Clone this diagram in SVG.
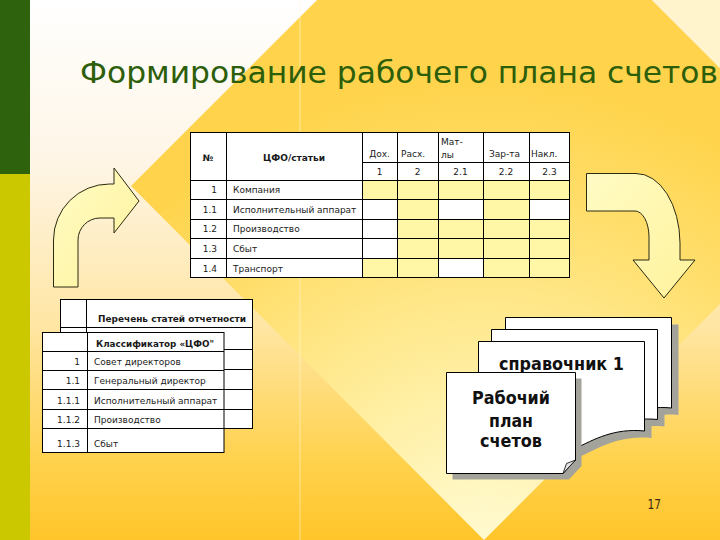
<svg xmlns="http://www.w3.org/2000/svg" width="720" height="540" viewBox="0 0 720 540">
<defs>
<linearGradient id="gBase" gradientUnits="userSpaceOnUse" x1="0" y1="0" x2="0" y2="540">
<stop offset="0" stop-color="#FFFFFF"/>
<stop offset="0.3" stop-color="#FEF5E6"/>
<stop offset="0.6" stop-color="#FFE6A4"/>
<stop offset="0.85" stop-color="#FFD24E"/>
<stop offset="1" stop-color="#FFC52A"/>
</linearGradient>
<radialGradient id="gDia" gradientUnits="userSpaceOnUse" cx="484" cy="560" r="480">
<stop offset="0" stop-color="#FFFBD6"/>
<stop offset="0.35" stop-color="#FFF0A6"/>
<stop offset="0.7" stop-color="#FFE072"/>
<stop offset="1" stop-color="#FFD44C"/>
</radialGradient>
<linearGradient id="gArrow" x1="0" y1="0" x2="1" y2="1">
<stop offset="0" stop-color="#FFFBC4"/>
<stop offset="1" stop-color="#FFF39C"/>
</linearGradient>
<style>
.t{font-family:"DejaVu Sans","Liberation Sans",sans-serif;font-size:9px;fill:#1a1a1a}
.b{font-weight:bold}
.grid{fill:none;stroke:#000;stroke-width:1}
.cell{fill:#FFF6A6}
.paper{fill:#FFFFFF;stroke:#000;stroke-width:1}
.shadow{fill:#A3A39C}
.arrow{fill:url(#gArrow);stroke:#2a2a10;stroke-width:1}
.big{font-family:"DejaVu Sans","Liberation Sans",sans-serif;font-size:17px;font-weight:bold;fill:#111}
</style>
</defs>

<g id="background">
<rect x="0" y="0" width="720" height="540" fill="url(#gBase)"/>
<polygon points="317,0 652,0 720,68 720,304 484,540 131,186" fill="url(#gDia)"/>
<polygon points="652,0 720,0 720,68" fill="#FFF4CC"/>
<line x1="300" y1="0" x2="300" y2="540" stroke="#FFF8DA" stroke-opacity="0.55" stroke-width="1"/>
<rect x="0" y="0" width="30" height="174" fill="#2F620C"/>
<rect x="0" y="174" width="30" height="366" fill="#CCC800"/>
</g>

<g id="title">
<text x="80" y="83" font-family="'DejaVu Sans','Liberation Sans',sans-serif" font-size="31" fill="#2D5E0A" textLength="638" lengthAdjust="spacingAndGlyphs">Формирование рабочего плана счетов</text>
</g>

<g id="table-main">
<rect x="190" y="132" width="380" height="146" fill="#FFFFFF"/>
<rect class="cell" x="362" y="180" width="208" height="19"/>
<rect class="cell" x="397" y="199" width="41" height="20"/>
<rect class="cell" x="483" y="199" width="46" height="20"/>
<rect class="cell" x="397" y="219" width="173" height="20"/>
<rect class="cell" x="397" y="238" width="173" height="21"/>
<rect class="cell" x="362" y="258" width="76" height="20"/>
<rect class="cell" x="483" y="258" width="87" height="20"/>
<path class="grid" d="M190,132.5H570M190,180.5H570M190,199.5H570M190,219.5H570M190,238.5H570M190,258.5H570M190,277.5H570M362,162.5H570M190.5,132V278M226.5,132V278M362.5,132V278M397.5,132V278M438.5,132V278M483.5,132V278M529.5,132V278M569.5,132V278"/>
<text class="t b" x="208" y="161" text-anchor="middle">№</text>
<text class="t b" x="294" y="161" text-anchor="middle">ЦФО/статьи</text>
<text class="t" x="379.5" y="157" text-anchor="middle">Дох.</text>
<text class="t" x="401" y="157">Расх.</text>
<text class="t" x="441" y="145">Мат-</text>
<text class="t" x="441" y="158">лы</text>
<text class="t" x="489" y="157">Зар-та</text>
<text class="t" x="531" y="157">Накл.</text>
<text class="t" x="379.5" y="175" text-anchor="middle">1</text>
<text class="t" x="417.5" y="175" text-anchor="middle">2</text>
<text class="t" x="460.5" y="175" text-anchor="middle">2.1</text>
<text class="t" x="506" y="175" text-anchor="middle">2.2</text>
<text class="t" x="549.5" y="175" text-anchor="middle">2.3</text>
<text class="t" x="217" y="193" text-anchor="end">1</text>
<text class="t" x="233" y="193">Компания</text>
<text class="t" x="217" y="212.5" text-anchor="end">1.1</text>
<text class="t" x="233" y="212.5">Исполнительный аппарат</text>
<text class="t" x="217" y="232" text-anchor="end">1.2</text>
<text class="t" x="233" y="232">Производство</text>
<text class="t" x="217" y="252" text-anchor="end">1.3</text>
<text class="t" x="233" y="252">Сбыт</text>
<text class="t" x="217" y="271.5" text-anchor="end">1.4</text>
<text class="t" x="233" y="271.5">Транспорт</text>
</g>

<g id="list-back">
<rect class="paper" x="60.5" y="299.5" width="192" height="129"/>
<path class="grid" d="M86.5,299V428M60,327.5H252.5M60,349.5H252.5M60,369.5H252.5M60,389.5H252.5M60,409.5H252.5"/>
<text class="t b" x="98" y="321.5" textLength="148" lengthAdjust="spacingAndGlyphs">Перечень статей отчетности</text>
</g>

<g id="list-front">
<rect class="paper" x="42.5" y="332.5" width="181.5" height="120"/>
<path class="grid" d="M87.5,332.5V452.5M42.5,351.5H224M42.5,370.5H224M42.5,389.5H224M42.5,409.5H224M42.5,428.5H224"/>
<text class="t b" x="96" y="346.5" textLength="118" lengthAdjust="spacingAndGlyphs">Классификатор «ЦФО"</text>
<text class="t" x="80" y="365" text-anchor="end">1</text>
<text class="t" x="94" y="365">Совет директоров</text>
<text class="t" x="80" y="384.3" text-anchor="end">1.1</text>
<text class="t" x="94" y="384.3">Генеральный директор</text>
<text class="t" x="80" y="404" text-anchor="end">1.1.1</text>
<text class="t" x="94" y="404">Исполнительный аппарат</text>
<text class="t" x="80" y="423.3" text-anchor="end">1.1.2</text>
<text class="t" x="94" y="423.3">Производство</text>
<text class="t" x="80" y="446.5" text-anchor="end">1.1.3</text>
<text class="t" x="94" y="446.5">Сбыт</text>
</g>

<g id="connectors">
<path id="arrow-left" class="arrow" d="M53.5,287 L53.5,240 A56,56 0 0 1 109.5,184 L114,184 L114,168 L139,201 L114,233 L114,218 L100,218 A22,22 0 0 0 78,240 L78,287 Z"/>
<path id="arrow-right" class="arrow" d="M586.5,173.5 L636,173.5 A44,70 0 0 1 680,243 L680,260 L695,260 L664,298 L633,260 L649,260 L649,237 A14,26 0 0 0 635,211 L586.5,211 Z"/>
</g>

<g id="documents">
<g class="shadow" transform="translate(7,7)">
<path d="M505.5,317.5H671.5V408C641.5,405 621.5,416 601.5,426C571.5,440 545.5,438 505.5,428Z"/>
<path d="M491.5,329.5H657.5V419.5C627.5,416.5 607.5,427.5 587.5,437.5C557.5,451.5 531.5,449.5 491.5,439.5Z"/>
<path d="M478.5,341.5H644.5V431C614.5,428 594.5,439 574.5,449C544.5,463 518.5,461 478.5,451Z"/>
</g>
<path class="paper" d="M505.5,317.5H671.5V408C641.5,405 621.5,416 601.5,426C571.5,440 545.5,438 505.5,428Z"/>
<path class="paper" d="M491.5,329.5H657.5V419.5C627.5,416.5 607.5,427.5 587.5,437.5C557.5,451.5 531.5,449.5 491.5,439.5Z"/>
<path class="paper" d="M478.5,341.5H644.5V431C614.5,428 594.5,439 574.5,449C544.5,463 518.5,461 478.5,451Z"/>
<text class="big" x="561.5" y="370" text-anchor="middle" textLength="125" lengthAdjust="spacingAndGlyphs">справочник 1</text>
</g>

<g id="working-plan">
<path class="shadow" d="M452.5,378.5H581.5V466L569,479.5H452.5Z"/>
<path class="paper" d="M446.5,372.5H575.5V460L563,473.5H446.5Z"/>
<path d="M575.5,460L563,473.5L566.5,463.5Z" fill="#E4E4E4" stroke="#000" stroke-width="0.8"/>
<text class="big" x="511" y="404" text-anchor="middle" textLength="78" lengthAdjust="spacingAndGlyphs">Рабочий</text>
<text class="big" x="511" y="427" text-anchor="middle" textLength="44" lengthAdjust="spacingAndGlyphs">план</text>
<text class="big" x="511" y="447" text-anchor="middle" textLength="62" lengthAdjust="spacingAndGlyphs">счетов</text>
</g>

<g id="page-number">
<text x="647.5" y="509" font-family="'DejaVu Sans','Liberation Sans',sans-serif" font-size="14" fill="#3A2A10" textLength="13.5" lengthAdjust="spacingAndGlyphs">17</text>
</g>
</svg>
